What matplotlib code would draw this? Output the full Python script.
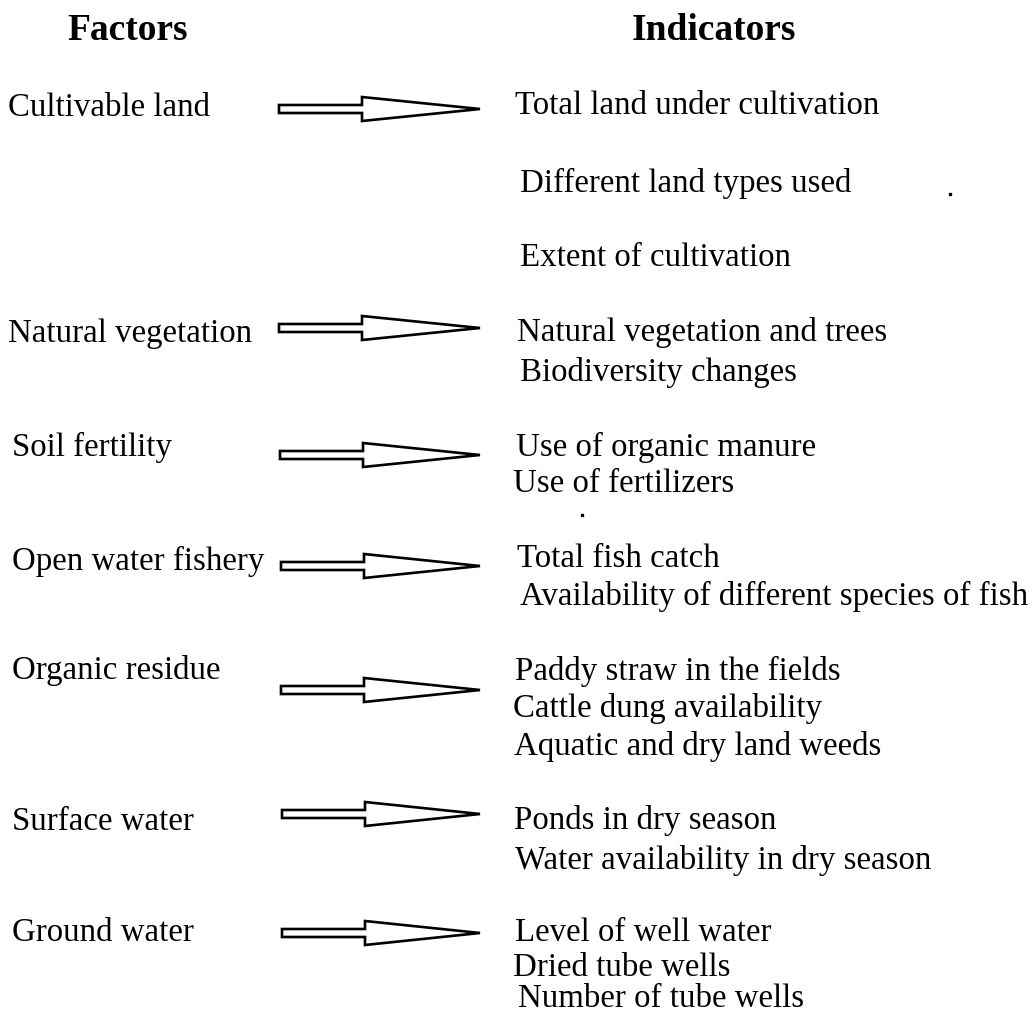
import matplotlib.pyplot as plt
from matplotlib.patches import Polygon

plt.rcParams['font.family'] = ['Liberation Serif', 'DejaVu Serif']

factors = ['Cultivable land', 'Natural vegetation', 'Soil fertility',
           'Open water fishery', 'Organic residue', 'Surface water',
           'Ground water']
indicators = [
    ['Total land under cultivation', 'Different land types used',
     'Extent of cultivation'],
    ['Natural vegetation and trees', 'Biodiversity changes'],
    ['Use of organic manure', 'Use of fertilizers'],
    ['Total fish catch', 'Availability of different species of fish'],
    ['Paddy straw in the fields', 'Cattle dung availability',
     'Aquatic and dry land weeds'],
    ['Ponds in dry season', 'Water availability in dry season'],
    ['Level of well water', 'Dried tube wells', 'Number of tube wells'],
]

# layout in pixel units (image is 1033 x 1017)
factor_x = [8, 8, 12, 12, 12, 12, 12]
factor_y = [108, 334, 447, 561, 671, 822, 933]
arrow_y = [109, 328, 455, 566, 690, 814, 933]
arrow_x0 = [279, 279, 280, 281, 281, 282, 282]
ind_x = [[515, 520, 520], [517, 520], [516, 513], [517, 520],
         [515, 513, 514], [514, 515], [515, 513, 518]]
ind_y = [[106, 183, 258], [333, 372], [447, 484], [559, 596],
         [671, 709, 747], [821, 860], [933, 968, 999]]

fig = plt.figure(figsize=(10.33, 10.17), dpi=100)
ax = fig.add_axes([0, 0, 1, 1])
ax.set_xlim(0, 1033)
ax.set_ylim(1017, 0)
ax.axis('off')

ax.text(67, 30, 'Factors', fontsize=27, fontweight='bold', va='center')
ax.text(632, 30, 'Indicators', fontsize=27, fontweight='bold', va='center')

def hollow_arrow(x0, y):
    x1, x2 = x0 + 83, 480
    pts = [(x0, y - 4), (x1, y - 4), (x1, y - 12), (x2, y),
           (x1, y + 12), (x1, y + 4), (x0, y + 4)]
    ax.add_patch(Polygon(pts, closed=True, facecolor='white',
                         edgecolor='black', linewidth=1.9, joinstyle='miter'))

for i, name in enumerate(factors):
    ax.text(factor_x[i], factor_y[i], name, fontsize=23.7, va='center')
    hollow_arrow(arrow_x0[i], arrow_y[i])
    for j, item in enumerate(indicators[i]):
        ax.text(ind_x[i][j], ind_y[i][j], item, fontsize=23.7, va='center')

# stray specks in the scanned original
ax.plot([950, 582], [194, 515], 's', color='black', markersize=1.5)

fig.savefig('out.png', dpi=100)
